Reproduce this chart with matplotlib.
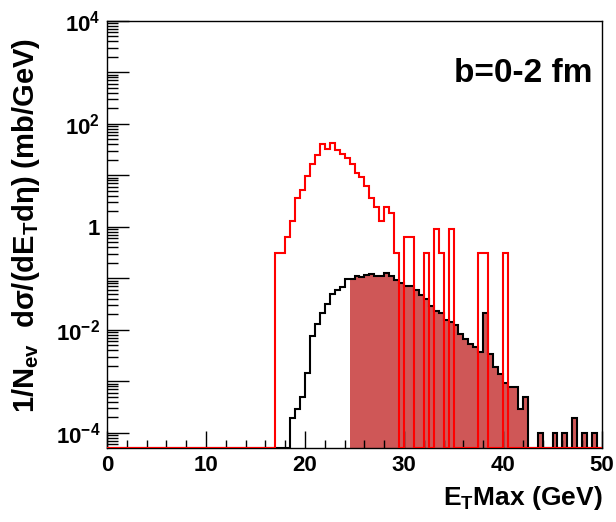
import numpy as np
import matplotlib
matplotlib.use('Agg')
import matplotlib.pyplot as plt
from matplotlib.ticker import LogLocator, MultipleLocator, FuncFormatter, NullFormatter

plt.rcParams['font.family'] = ['Liberation Sans', 'DejaVu Sans']
plt.rcParams['font.weight'] = 'bold'
plt.rcParams['mathtext.default'] = 'regular'

# ---- data (0.5 GeV bins) ----
bin_width = 0.5
x_min, x_max = 0.0, 50.0
y_min, y_max = 5.1e-5, 1e4

# red histogram, bins starting at 17.0 GeV
red_start = 17.0
red_vals = [0.31, 0.31, 0.64, 1.31, 3.66, 5.16, 9.8, 16.3, 25.0, 40.0,
            32.7, 42.8, 30.8, 25.5, 21.3, 16.3, 11.2, 9.2, 6.2, 3.66,
            2.38, 1.29, 2.38, 1.85, 0.31, 0.0, 0.62, 0.62, 0.0, 0.0,
            0.31, 0.0, 0.90, 0.31, 0.0, 0.90, 0.0, 0.0, 0.0, 0.0,
            0.0, 0.31, 0.31, 0.0, 0.0, 0.0, 0.31]

# black histogram, bins starting at 18.5 GeV
black_start = 18.5
black_vals = [1.9e-4, 2.85e-4, 5.0e-4, 1.42e-3, 7.55e-3, 1.27e-2, 2.09e-2, 3.11e-2,
              4.86e-2, 5.9e-2, 6.84e-2, 9.5e-2, 0.097, 0.11, 0.105, 0.115,
              0.123, 0.112, 0.112, 0.125, 0.108, 0.094, 0.082, 0.0715,
              0.0715, 0.059, 0.047, 0.039, 0.029, 0.0234, 0.0214, 0.0154,
              0.0143, 0.0123, 0.0081, 0.0066, 0.0052, 0.0047, 0.0037, 0.0208,
              0.0033, 0.0019, 0.00136, 0.00093, 0.00077, 0.00077, 0.000285, 0.0005,
              0.0, 0.0, 1e-4, 0.0, 0.0, 1e-4, 0.0, 1e-4,
              0.0, 1.9e-4, 0.0, 1e-4, 0.0, 1e-4, 0.0]

# filled part of the black histogram starts here
fill_start = 24.5

fill_color = '#cf5757'


def full(start, vals):
    edges = np.arange(x_min, x_max + bin_width / 2, bin_width)
    v = np.zeros(len(edges) - 1)
    i0 = int(round((start - x_min) / bin_width))
    v[i0:i0 + len(vals)] = vals
    return edges, v


edges, red = full(red_start, red_vals)
_, black = full(black_start, black_vals)
fillv = np.where(edges[:-1] >= fill_start - 1e-9, black, 0.0)

fig = plt.figure(figsize=(6.16, 5.22), dpi=100)
ax = fig.add_axes([0.1737, 0.1423, 0.8036, 0.818])

ax.stairs(np.maximum(fillv, y_min), edges, baseline=y_min, fill=True,
          color=fill_color, lw=0, zorder=1)
ax.stairs(np.maximum(black, y_min), edges, baseline=None, color='black',
          lw=1.5, zorder=2)
ax.stairs(np.maximum(red, y_min), edges, baseline=None, color='#ff0000',
          lw=1.5, zorder=3)

ax.set_yscale('log')
ax.set_xlim(x_min, x_max)
ax.set_ylim(y_min, y_max)

ax.xaxis.set_major_locator(MultipleLocator(10))
ax.xaxis.set_minor_locator(MultipleLocator(2))
ax.yaxis.set_major_locator(LogLocator(base=10, numticks=30))
ax.yaxis.set_minor_locator(LogLocator(base=10, subs=np.arange(2, 10), numticks=30))
ax.yaxis.set_minor_formatter(NullFormatter())


def yfmt(v, pos):
    e = int(round(np.log10(v)))
    if e % 2:
        return ''
    if e == 0:
        return '1'
    return r'$10^{%d}$' % e


ax.yaxis.set_major_formatter(FuncFormatter(yfmt))

ax.tick_params(axis='x', which='major', direction='in', length=12, width=1,
               labelsize=16, pad=5, top=False)
ax.tick_params(axis='x', which='minor', direction='in', length=6, width=1, top=False)
ax.tick_params(axis='y', which='major', direction='in', length=16, width=1,
               labelsize=16, pad=5, right=False)
ax.tick_params(axis='y', which='minor', direction='in', length=8, width=1, right=False)
for lab in ax.get_xticklabels() + ax.get_yticklabels():
    lab.set_fontweight('bold')
for s in ax.spines.values():
    s.set_linewidth(1.0)

fig.text(603 / 616, 1 - 498 / 522, r'E$_{T}$Max (GeV)', ha='right', va='center',
         fontsize=19, fontweight='bold')
fig.text(26 / 616, 1 - 38 / 522, r'1/N$_{ev}$  d$\sigma$/(dE$_{T}$d$\eta$) (mb/GeV)',
         rotation=90, ha='center', va='top', fontsize=21, fontweight='bold')
fig.text(592 / 616, 1 - 73 / 522, 'b=0-2 fm', ha='right', va='center',
         fontsize=24, fontweight='bold')

fig.savefig('out.png', dpi=100)
